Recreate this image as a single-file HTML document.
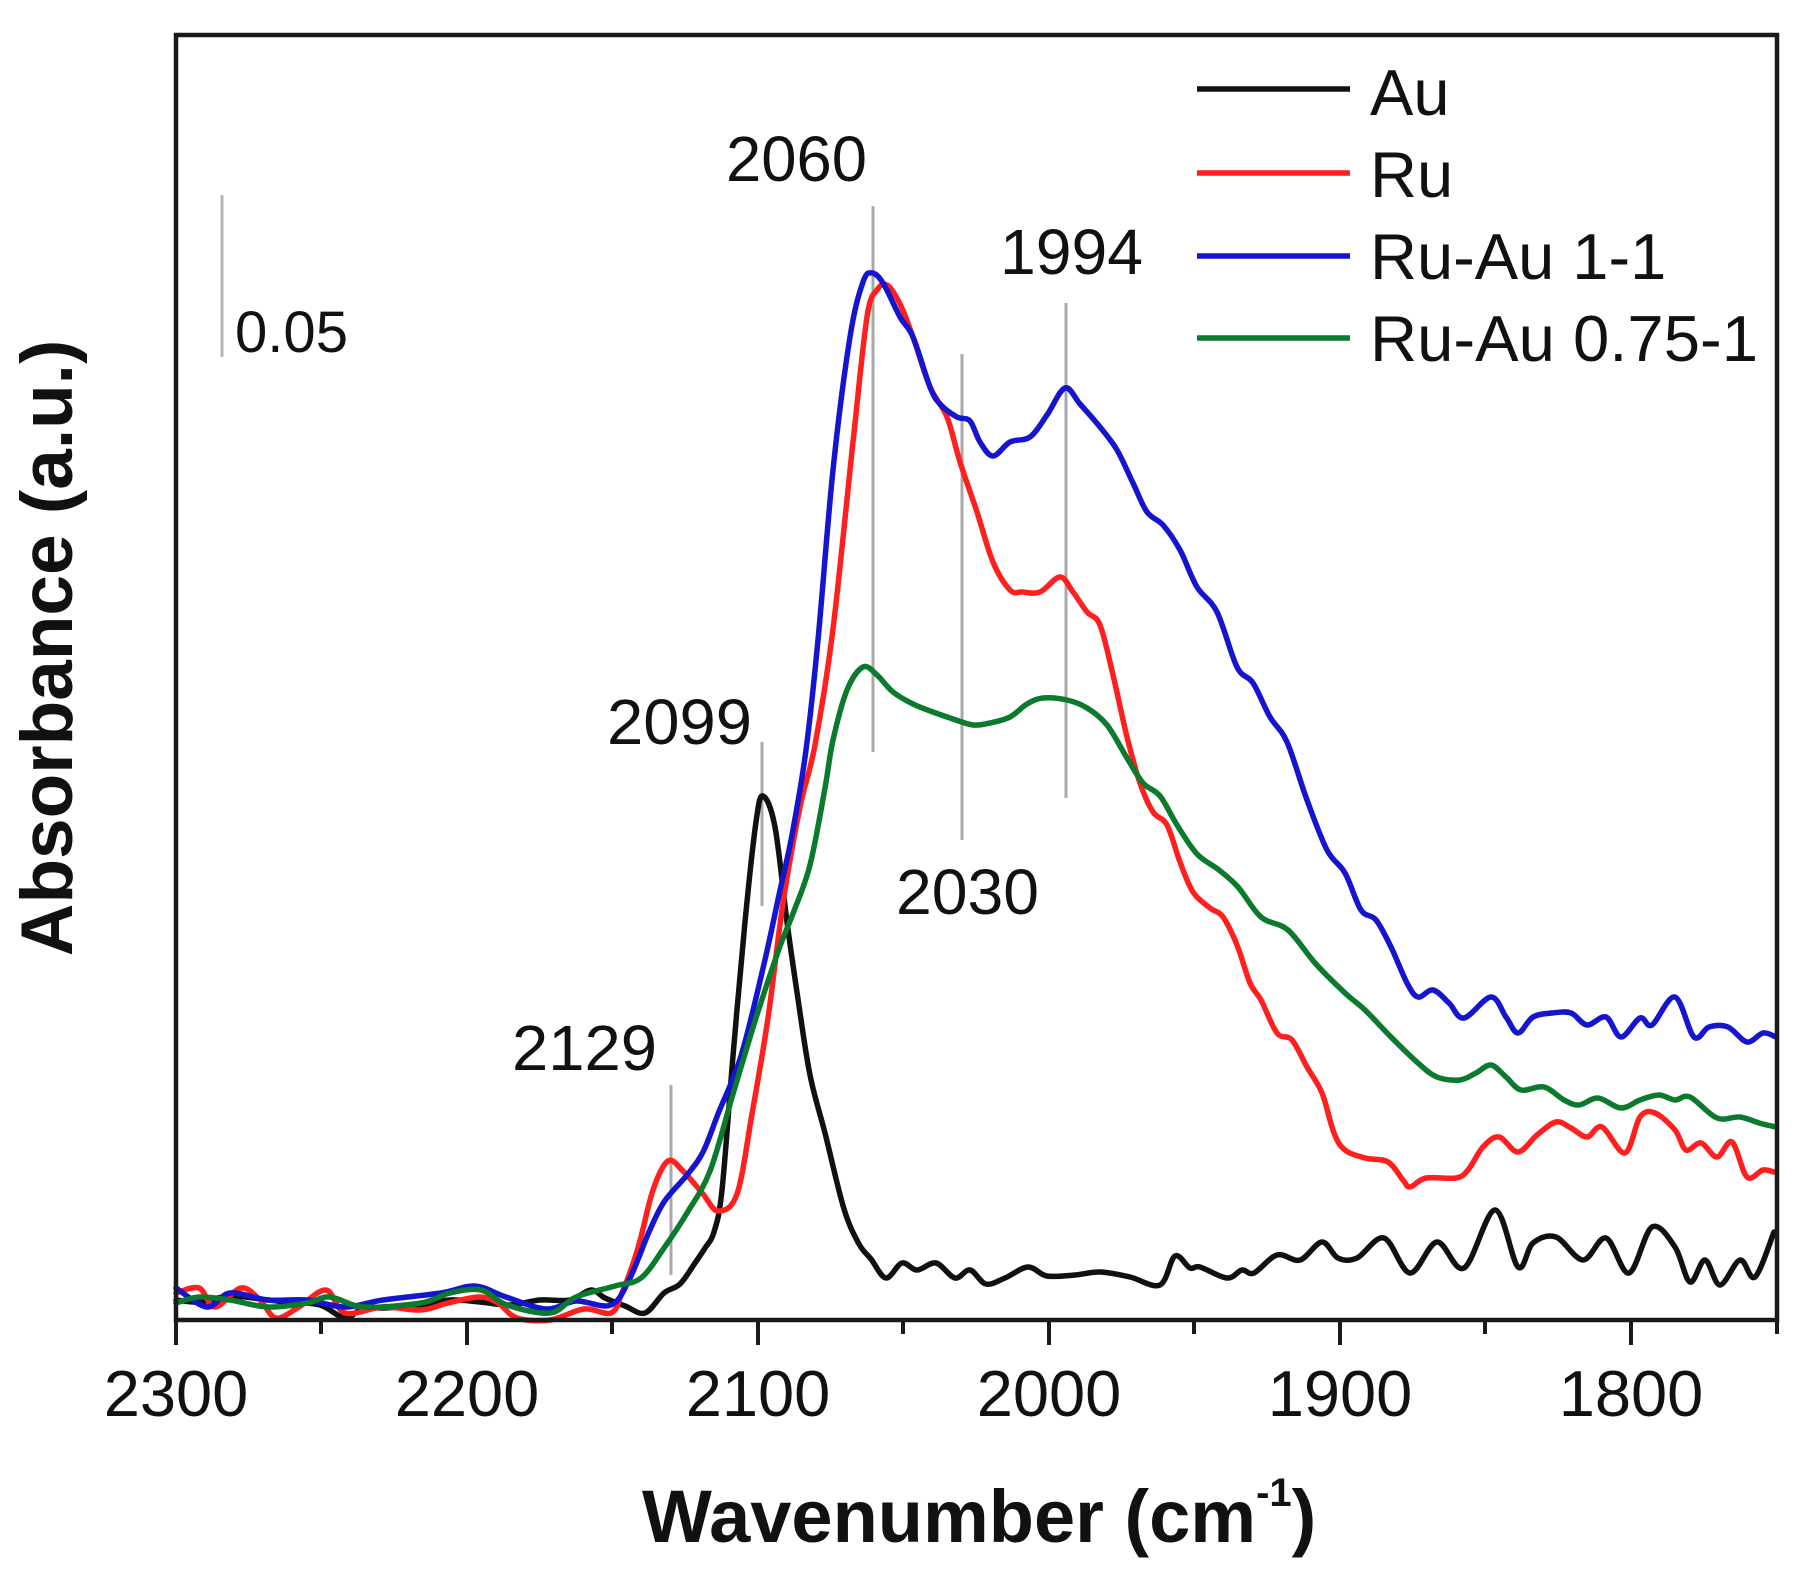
<!DOCTYPE html>
<html>
<head>
<meta charset="utf-8">
<style>
  html,body{margin:0;padding:0;background:#fff;}
  svg{display:block;}
  text{font-family:"Liberation Sans", Arial, sans-serif; fill:#111;}
</style>
</head>
<body>
<svg id="chart" width="1804" height="1579" viewBox="0 0 1804 1579" xmlns="http://www.w3.org/2000/svg">
  <rect x="0" y="0" width="1804" height="1579" fill="#fff"/>

  <!-- scale bar -->
  <line x1="222" y1="195" x2="222" y2="357" stroke="#b5b5b5" stroke-width="3"/>
  <text x="235" y="352" font-size="58" textLength="113" lengthAdjust="spacingAndGlyphs">0.05</text>

  <!-- marker lines -->
  <g stroke="#a8a8a8" stroke-width="3">
    <line x1="671" y1="1085" x2="671" y2="1275"/>
    <line x1="762" y1="742" x2="762" y2="906"/>
    <line x1="873" y1="206" x2="873" y2="752"/>
    <line x1="962" y1="354" x2="962" y2="840"/>
    <line x1="1066" y1="303" x2="1066" y2="798"/>
  </g>

  <!-- annotation labels -->
  <g font-size="64">
    <text x="726" y="181" textLength="141" lengthAdjust="spacingAndGlyphs">2060</text>
    <text x="1000" y="274" textLength="143" lengthAdjust="spacingAndGlyphs">1994</text>
    <text x="607" y="744" textLength="145" lengthAdjust="spacingAndGlyphs">2099</text>
    <text x="896" y="914" textLength="143" lengthAdjust="spacingAndGlyphs">2030</text>
    <text x="512" y="1070" textLength="145" lengthAdjust="spacingAndGlyphs">2129</text>
  </g>

  <!-- curves -->
  <g id="curves" fill="none" stroke-width="5.5" stroke-linejoin="round" stroke-linecap="round">
    <polyline class="s" stroke="#111111" points="176,1300 200,1302 230,1296 268,1300 287,1302 320,1305 345,1318 364,1307 383,1308 420,1305 450,1300 480,1302 510,1305 540,1300 570,1300 591,1290 605,1298 625,1306 645,1313 664,1293 680,1284 695,1263 705,1248 714,1232 722,1190 733,1056 745,922 756,822 763,796 775,827 787,922 798,999 810,1075 825,1133 844,1209 859,1244 871,1259 886,1278 902,1263 917,1270 936,1263 955,1278 970,1270 986,1284 1005,1278 1028,1267 1047,1276 1075,1275 1100,1272 1130,1277 1160,1285 1175,1256 1190,1268 1200,1267 1227,1278 1242,1270 1254,1273 1277,1255 1300,1260 1322,1242 1338,1258 1357,1258 1384,1238 1410,1273 1437,1242 1464,1268 1495,1210 1518,1267 1533,1243 1556,1237 1583,1260 1606,1238 1629,1273 1652,1227 1675,1247 1690,1282 1705,1260 1720,1285 1740,1260 1755,1277 1774,1232"/>
    <polyline class="s" stroke="#ff1f1f" points="176,1293 199,1288 215,1307 241,1288 260,1300 276,1318 299,1307 326,1290 345,1313 383,1307 421,1310 448,1303 479,1297 498,1303 517,1318 550,1320 584,1309 611,1313 622,1293 638,1248 653,1190 668,1161 683,1171 703,1194 718,1211 737,1194 752,1114 768,1018 783,903 800,807 815,745 833,629 853,442 867,317 877,290 887,285 900,304 913,337 930,387 947,417 960,462 977,512 993,562 1010,590 1022,592 1040,592 1060,577 1073,592 1087,612 1100,625 1113,675 1127,737 1140,783 1153,812 1167,825 1180,862 1193,892 1210,908 1223,917 1237,945 1250,983 1261,1000 1277,1033 1292,1040 1307,1067 1322,1093 1334,1133 1345,1150 1365,1158 1388,1162 1403,1180 1410,1187 1426,1178 1456,1178 1468,1170 1483,1147 1499,1137 1518,1152 1537,1135 1556,1122 1571,1128 1587,1137 1602,1127 1625,1153 1640,1117 1655,1113 1675,1130 1686,1150 1701,1143 1717,1157 1732,1142 1747,1177 1763,1170 1774,1172"/>
    <polyline class="s" stroke="#1515d0" points="176,1288 207,1307 230,1293 268,1300 307,1300 345,1307 383,1300 441,1293 475,1286 506,1297 546,1309 576,1301 611,1305 630,1278 649,1232 664,1202 687,1175 703,1152 718,1114 741,1056 764,964 779,895 792,835 806,750 818,640 833,470 850,337 863,282 872,273 883,283 900,317 913,337 930,387 940,404 957,417 970,421 980,442 993,456 1010,442 1030,437 1047,415 1065,388 1080,404 1100,427 1117,450 1133,483 1147,512 1163,525 1180,550 1197,587 1217,612 1237,667 1253,683 1270,717 1287,742 1307,800 1327,850 1345,873 1361,910 1376,920 1391,947 1407,983 1418,997 1433,990 1449,1003 1464,1018 1491,997 1506,1017 1518,1033 1533,1017 1552,1013 1571,1013 1587,1025 1606,1017 1621,1037 1640,1018 1652,1025 1675,997 1694,1037 1709,1027 1728,1027 1747,1042 1763,1033 1776,1037"/>
    <polyline class="s" stroke="#0b7a2c" points="176,1303 199,1297 230,1300 268,1307 307,1303 330,1297 364,1307 421,1303 450,1293 481,1290 507,1305 550,1313 576,1297 615,1286 641,1278 664,1248 687,1213 710,1171 733,1094 756,1018 779,949 794,911 810,865 825,788 833,740 847,690 863,667 877,675 893,692 913,704 933,712 953,719 973,725 990,723 1010,717 1027,704 1043,698 1067,700 1087,708 1107,725 1127,758 1143,783 1160,796 1177,825 1197,854 1219,870 1238,887 1261,917 1288,930 1315,963 1345,993 1365,1010 1391,1037 1418,1063 1437,1077 1460,1080 1476,1073 1491,1065 1506,1077 1521,1090 1544,1087 1564,1100 1579,1105 1598,1098 1621,1108 1640,1100 1659,1095 1675,1100 1690,1097 1717,1118 1740,1117 1759,1123 1776,1127"/>
  </g>

  <!-- frame -->
  <rect x="176" y="35" width="1601" height="1285" fill="none" stroke="#1a1a1a" stroke-width="4.5"/>

  <!-- x ticks -->
  <g stroke="#1a1a1a" stroke-width="4">
    <line x1="176" y1="1320" x2="176" y2="1345"/>
    <line x1="467" y1="1320" x2="467" y2="1345"/>
    <line x1="758" y1="1320" x2="758" y2="1345"/>
    <line x1="1049" y1="1320" x2="1049" y2="1345"/>
    <line x1="1340" y1="1320" x2="1340" y2="1345"/>
    <line x1="1631" y1="1320" x2="1631" y2="1345"/>
    <line x1="321" y1="1320" x2="321" y2="1334"/>
    <line x1="612" y1="1320" x2="612" y2="1334"/>
    <line x1="903" y1="1320" x2="903" y2="1334"/>
    <line x1="1194" y1="1320" x2="1194" y2="1334"/>
    <line x1="1485" y1="1320" x2="1485" y2="1334"/>
    <line x1="1777" y1="1320" x2="1777" y2="1334"/>
  </g>

  <!-- tick labels -->
  <g font-size="65" text-anchor="middle">
    <text x="176" y="1416">2300</text>
    <text x="467" y="1416">2200</text>
    <text x="758" y="1416">2100</text>
    <text x="1049" y="1416">2000</text>
    <text x="1340" y="1416">1900</text>
    <text x="1631" y="1416">1800</text>
  </g>

  <!-- legend -->
  <g stroke-width="5.5">
    <line x1="1197" y1="89" x2="1350" y2="89" stroke="#111111"/>
    <line x1="1197" y1="173" x2="1350" y2="173" stroke="#ff1f1f"/>
    <line x1="1197" y1="256" x2="1350" y2="256" stroke="#1515d0"/>
    <line x1="1197" y1="338" x2="1350" y2="338" stroke="#0b7a2c"/>
  </g>
  <g font-size="65">
    <text x="1370" y="115">Au</text>
    <text x="1370" y="197">Ru</text>
    <text x="1370" y="279">Ru-Au 1-1</text>
    <text x="1370" y="361" textLength="388" lengthAdjust="spacingAndGlyphs">Ru-Au 0.75-1</text>
  </g>

  <!-- axis titles -->
  <text x="642" y="1542" font-size="74" font-weight="bold">Wavenumber (cm<tspan font-size="40" dy="-36">-1</tspan><tspan dy="36">)</tspan></text>
  <text transform="translate(72,648) rotate(-90)" x="0" y="0" font-size="73" font-weight="bold" text-anchor="middle">Absorbance (a.u.)</text>
</svg>
<script>
(function(){
  try{
    var NS="http://www.w3.org/2000/svg";
    var pls=document.querySelectorAll("polyline.s");
    for(var k=0;k<pls.length;k++){
      var pl=pls[k];
      var raw=pl.getAttribute("points").trim().split(/\s+/);
      var p=[];
      for(var i=0;i<raw.length;i++){var c=raw[i].split(",");p.push([+c[0],+c[1]]);}
      var d="M"+p[0][0]+","+p[0][1];
      for(var i=0;i<p.length-1;i++){
        var p0=p[i>0?i-1:i],p1=p[i],p2=p[i+1],p3=p[i+2<p.length?i+2:i+1];
        var t=1/6;
        var c1x=p1[0]+(p2[0]-p0[0])*t,c1y=p1[1]+(p2[1]-p0[1])*t;
        var c2x=p2[0]-(p3[0]-p1[0])*t,c2y=p2[1]-(p3[1]-p1[1])*t;
        d+=" C"+c1x.toFixed(1)+","+c1y.toFixed(1)+" "+c2x.toFixed(1)+","+c2y.toFixed(1)+" "+p2[0]+","+p2[1];
      }
      var path=document.createElementNS(NS,"path");
      path.setAttribute("d",d);
      path.setAttribute("stroke",pl.getAttribute("stroke"));
      pl.parentNode.replaceChild(path,pl);
    }
  }catch(e){}
})();
</script>
</body>
</html>
